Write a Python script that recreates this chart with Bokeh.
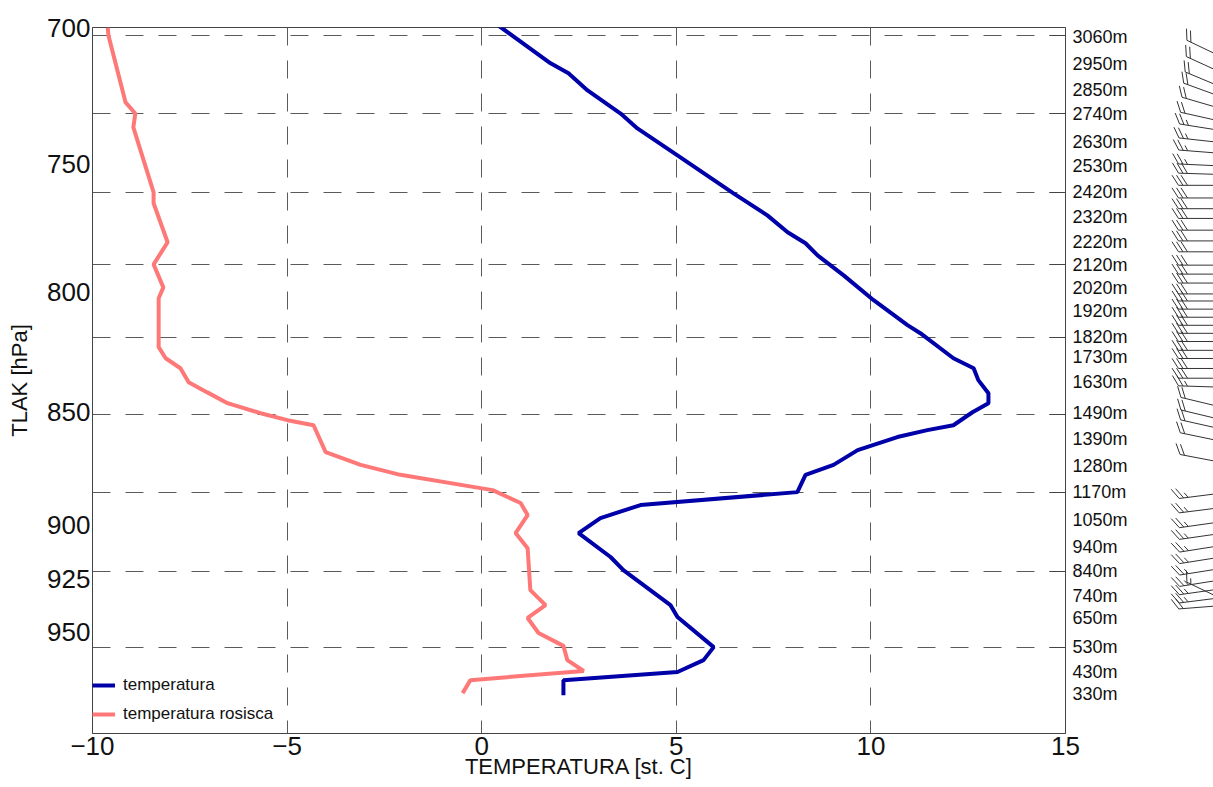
import numpy as np
from bokeh.plotting import figure
from bokeh.models import (FixedTicker, LogAxis, Range1d, Legend, LegendItem)
from bokeh.layouts import row
from bokeh.embed import file_html
from bokeh.resources import INLINE

# ---------------- data ----------------
temp_p = [699.3, 712.8, 716.4, 722.6, 731.1, 736.6, 746.7, 761.2, 769.7, 776.3, 780.6,
          785.4, 788.5, 793.4, 803.4, 813.6, 816.9, 827.3, 831.5, 836.5, 842.1, 846.3,
          850.2, 855.8, 857.9, 860.9, 866.6, 873.1, 877.5, 885.2, 891.0, 896.9, 903.7,
          914.7, 920.8, 937.2, 942.8, 957.3, 963.6, 969.4, 973.4, 980.8]
temp_t = [0.43, 1.77, 2.23, 2.72, 3.57, 4.00, 5.03, 6.47, 7.34, 7.86, 8.32,
          8.63, 8.89, 9.30, 10.07, 10.94, 11.27, 12.12, 12.64, 12.76, 13.02, 13.02,
          12.61, 12.12, 11.45, 10.68, 9.66, 9.04, 8.32, 8.11, 4.08, 3.05, 2.49,
          3.31, 3.64, 4.85, 5.03, 5.96, 5.70, 5.03, 2.10, 2.10]

dew_p = [700.0, 702.8, 727.0, 731.1, 736.2, 760.8, 765.0, 780.2, 789.0, 798.2, 802.6,
         822.7, 827.3, 831.5, 837.4, 841.7, 846.3, 850.6, 853.6, 855.8, 867.5, 873.1,
         877.5, 883.4, 884.3, 890.1, 895.5, 903.7, 910.6, 930.1, 937.2, 943.3, 950.5,
         956.7, 963.6, 968.9, 973.4, 979.8]
dew_t = [-9.61, -9.59, -9.15, -8.90, -8.95, -8.43, -8.43, -8.07, -8.43, -8.18, -8.30,
         -8.30, -8.12, -7.74, -7.53, -7.05, -6.53, -5.68, -4.99, -4.32, -4.01, -3.11,
         -2.09, -0.03, 0.28, 1.00, 1.18, 0.87, 1.18, 1.25, 1.64, 1.18, 1.46,
         2.10, 2.20, 2.62, -0.29, -0.49]

pressure_ticks = [700, 750, 800, 850, 900, 925, 950]
temp_ticks = [-10, -5, 0, 5, 10, 15]

height_p = [703.5, 713.2, 722.3, 731.1, 741.5, 750.9, 760.8, 770.5, 780.2, 789.4,
            798.6, 807.9, 818.6, 826.9, 837.4, 850.6, 861.9, 873.7, 885.2, 897.8,
            910.1, 921.2, 932.9, 943.3, 957.3, 969.4, 980.2]
height_labels = ["3060m", "2950m", "2850m", "2740m", "2630m", "2530m", "2420m", "2320m",
                 "2220m", "2120m", "2020m", "1920m", "1820m", "1730m", "1630m", "1490m",
                 "1390m", "1280m", "1170m", "1050m", "940m", "840m", "740m", "650m",
                 "530m", "430m", "330m"]
grid_p = [702.8, 731.1, 760.8, 789.0, 818.6, 851.0, 885.2, 921.2, 957.3]

# wind barbs: level pressure, direction (deg), speed (kt)
barb_p = [707.5, 713.6, 719.0, 722.3, 726.3, 730.7, 733.7, 738.1, 742.2, 747.1, 750.5,
          754.7, 760.1, 764.7, 768.9, 774.0, 778.7, 783.5, 789.4, 793.4, 797.4, 802.3,
          805.5, 809.2, 812.9, 816.6, 820.3, 824.1, 828.2, 832.0, 836.7, 841.3, 846.0,
          858.5, 864.6, 868.9, 874.7, 884.9, 895.7, 903.0, 910.0, 916.0, 922.0, 928.0,
          934.0, 940.0, 945.0, 950.0, 955.0, 960.0]
barb_dir = [298, 297, 295, 292, 288, 284, 280, 277, 275, 273, 272,
            270, 270, 270, 270, 270, 270, 270, 270, 270, 270, 270,
            270, 270, 270, 270, 270, 270, 270, 270, 270, 270, 272,
            285, 285, 284, 283, 282, 262, 262, 261, 261, 260, 260,
            260, 260, 261, 262, 265, 298]
barb_spd = [20, 20, 20, 20, 20, 20, 25, 25, 25, 25, 30,
            30, 30, 30, 30, 30, 30, 30, 30, 30, 30, 30,
            30, 30, 30, 30, 30, 30, 30, 30, 30, 30, 25,
            20, 20, 20, 20, 20, 25, 25, 25, 25, 25, 25,
            25, 25, 25, 25, 20, 15]

# ---------------- layout constants ----------------
FONT = "Liberation Sans"
FIG_H = 787
TOP = 27
FRAME_H = 706
BOTTOM = FIG_H - TOP - FRAME_H
LEFT = 92
FRAME_W = 973
RIGHT = 80
MAIN_W = LEFT + FRAME_W + RIGHT
BARB_W = 1213 - MAIN_W
P_TOP, P_BOT = 700, 1000
K = FRAME_H / np.log(P_BOT / P_TOP)  # px per ln-unit

p = figure(width=MAIN_W, height=FIG_H, x_range=Range1d(-10, 15),
           y_range=Range1d(P_BOT, P_TOP), y_axis_type="log",
           output_backend="svg", toolbar_location=None,
           min_border_left=LEFT, min_border_right=RIGHT,
           min_border_top=TOP, min_border_bottom=BOTTOM)
p.outline_line_color = "#444444"
p.background_fill_color = "white"
p.border_fill_color = "white"

# grids
p.xgrid.ticker = FixedTicker(ticks=temp_ticks)
p.ygrid.ticker = FixedTicker(ticks=grid_p)
for g in (p.xgrid, p.ygrid):
    g.grid_line_color = "#5a5a5a"
    g.grid_line_dash = "18 15"
    g.grid_line_width = 1

# x axis
xa = p.xaxis[0]
xa.ticker = FixedTicker(ticks=temp_ticks)
xa.major_tick_in = 0
xa.major_tick_out = 0
xa.minor_tick_line_color = None
xa.axis_line_color = "#444444"
xa.major_label_text_font = FONT
xa.major_label_text_font_size = "26px"
xa.major_label_text_color = "#111111"
xa.major_label_standoff = 3
xa.axis_label = "TEMPERATURA [st. C]"
xa.axis_label_text_font = FONT
xa.axis_label_text_font_size = "22px"
xa.axis_label_text_font_style = "normal"
xa.axis_label_text_color = "#111111"
xa.axis_label_standoff = -4

# left y axis
ya = p.yaxis[0]
ya.ticker = FixedTicker(ticks=pressure_ticks)
ya.major_label_overrides = {t: str(t) for t in pressure_ticks}
ya.major_tick_in = 0
ya.major_tick_out = 0
ya.minor_tick_line_color = None
ya.axis_line_color = "#444444"
ya.major_label_text_font = FONT
ya.major_label_text_font_size = "26px"
ya.major_label_text_color = "#111111"
ya.major_label_standoff = 2
ya.axis_label = "TLAK [hPa]"
ya.axis_label_text_font = FONT
ya.axis_label_text_font_size = "22px"
ya.axis_label_text_font_style = "normal"
ya.axis_label_text_color = "#111111"
ya.axis_label_standoff = 12

# right axis with heights
p.extra_y_ranges = {"h": Range1d(P_BOT, P_TOP)}
ra = LogAxis(y_range_name="h",
             ticker=FixedTicker(ticks=height_p, minor_ticks=grid_p))
ra.major_label_overrides = {hp: lab for hp, lab in zip(height_p, height_labels)}
ra.major_tick_in = 0
ra.major_tick_out = 0
ra.minor_tick_in = 16
ra.minor_tick_out = 0
ra.minor_tick_line_color = "#444444"
ra.axis_line_color = "#444444"
ra.major_label_text_font = FONT
ra.major_label_text_font_size = "18px"
ra.major_label_text_color = "#111111"
ra.major_label_standoff = 7
p.add_layout(ra, "right")

# lines
r_t = p.line(temp_t, temp_p, line_color="#0000a8", line_width=4)
r_d = p.line(dew_t, dew_p, line_color="#ff7878", line_width=4)

legend = Legend(items=[LegendItem(label="temperatura", renderers=[r_t]),
                       LegendItem(label="temperatura rosisca", renderers=[r_d])],
                location=(0, 8))
legend.border_line_color = None
legend.background_fill_alpha = 0
legend.label_text_font = FONT
legend.label_text_font_size = "17px"
legend.label_text_color = "#111111"
legend.glyph_width = 23
legend.glyph_height = 22
legend.label_height = 22
legend.spacing = 7
legend.padding = 8
legend.margin = 0
legend.label_standoff = 8
p.add_layout(legend)

# ---------------- wind barbs ----------------
barb_top = P_TOP * np.exp(-TOP / K)
barb_bot = P_TOP * np.exp((FIG_H - TOP) / K)
x0 = MAIN_W
b = figure(width=BARB_W, height=FIG_H, x_range=Range1d(x0, x0 + BARB_W),
           y_range=Range1d(barb_bot, barb_top), y_axis_type="log",
           output_backend="svg", toolbar_location=None,
           min_border_left=0, min_border_right=0, min_border_top=0, min_border_bottom=0)
b.axis.visible = False
b.grid.visible = False
b.outline_line_color = None

ANCHOR_X = 1250.0
STAFF = 72.0
FEATHER = 13.0
SPACING = 4.5
bx0, by0, bx1, by1 = [], [], [], []


def add_seg(xa_, ya_, xb_, yb_):
    bx0.append(xa_); by0.append(P_TOP * np.exp(ya_ / K))
    bx1.append(xb_); by1.append(P_TOP * np.exp(yb_ / K))


for pa, d, s in zip(barb_p, barb_dir, barb_spd):
    yy = K * np.log(pa / P_TOP)
    ux, uy = np.sin(np.radians(d)), -np.cos(np.radians(d))
    ex, ey = ANCHOR_X + STAFF * ux, yy + STAFF * uy
    add_seg(ANCHOR_X, yy, ex, ey)
    c, sn = np.cos(np.radians(60)), np.sin(np.radians(60))
    fx, fy = ux * c - uy * sn, ux * sn + uy * c
    n10 = s // 10
    half = (s % 10) >= 5
    for i in range(n10):
        sx, sy = ex - i * SPACING * ux, ey - i * SPACING * uy
        add_seg(sx, sy, sx + FEATHER * fx, sy + FEATHER * fy)
    if half:
        i = n10 if n10 > 0 else 1
        sx, sy = ex - i * SPACING * ux, ey - i * SPACING * uy
        add_seg(sx, sy, sx + FEATHER * 0.5 * fx, sy + FEATHER * 0.5 * fy)

b.segment(bx0, by0, bx1, by1, line_color="#333333", line_width=1)

layout = row(p, b)
open("out.html", "w").write(file_html(layout, INLINE))
